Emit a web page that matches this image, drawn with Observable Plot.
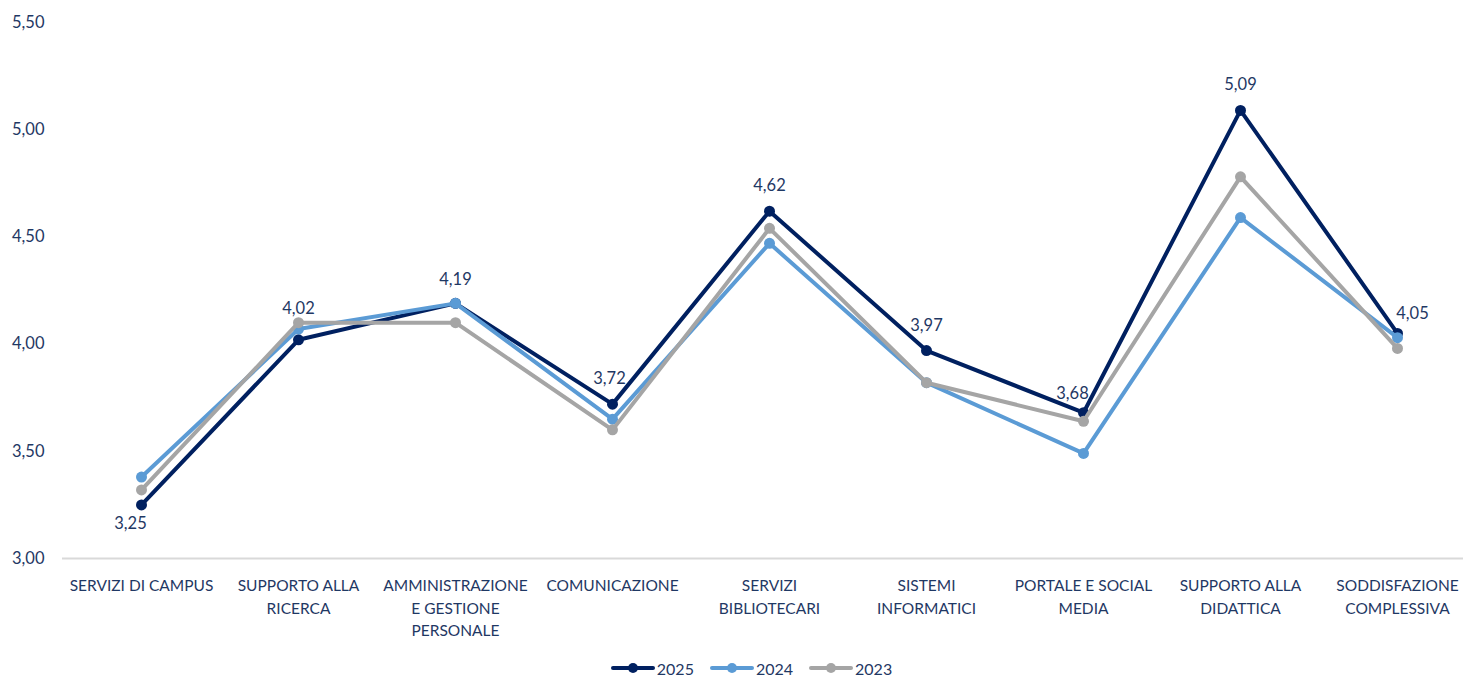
<!DOCTYPE html>
<html>
<head>
<meta charset="utf-8">
<script src="https://cdn.jsdelivr.net/npm/d3@7"></script>
<script src="https://cdn.jsdelivr.net/npm/@observablehq/plot@0.6"></script>
<style>
  body { margin: 0; background: #fff; font-family: Lato, "Open Sans", sans-serif; }
  #legend { display: flex; justify-content: center; align-items: center; gap: 16px; height: 20px; padding-top: 8px; padding-left: 40px; color: #1F3864; font-size: 16px; }
  #legend .item { display: flex; align-items: center; gap: 2px; }
</style>
</head>
<body>
<div id="chart"></div>
<div id="legend"></div>
<script>
const categories = [
  "SERVIZI DI CAMPUS", "SUPPORTO ALLA RICERCA", "AMMINISTRAZIONE E GESTIONE PERSONALE",
  "COMUNICAZIONE", "SERVIZI BIBLIOTECARI", "SISTEMI INFORMATICI",
  "PORTALE E SOCIAL MEDIA", "SUPPORTO ALLA DIDATTICA", "SODDISFAZIONE COMPLESSIVA"
];
const tickLabels = [
  "SERVIZI DI CAMPUS", "SUPPORTO ALLA\nRICERCA", "AMMINISTRAZIONE\nE GESTIONE\nPERSONALE",
  "COMUNICAZIONE", "SERVIZI\nBIBLIOTECARI", "SISTEMI\nINFORMATICI",
  "PORTALE E SOCIAL\nMEDIA", "SUPPORTO ALLA\nDIDATTICA", "SODDISFAZIONE\nCOMPLESSIVA"
];
const years = ["2025", "2024", "2023"];
const values2025 = [3.25, 4.02, 4.19, 3.72, 4.62, 3.97, 3.68, 5.09, 4.05];
const values2024 = [3.38, 4.07, 4.19, 3.65, 4.47, 3.82, 3.49, 4.59, 4.03];
const values2023 = [3.32, 4.10, 4.10, 3.60, 4.54, 3.82, 3.64, 4.78, 3.98];
const yTicks = [3.0, 3.5, 4.0, 4.5, 5.0, 5.5];
const colors = ["#002060", "#5B9BD5", "#A5A5A5"];

const seriesValues = { "2025": values2025, "2024": values2024, "2023": values2023 };
const rows = years.flatMap(year => seriesValues[year].map((value, i) => ({ year, category: categories[i], value })));
const fmt = d3.format(".2f");
const it = v => fmt(v).replace(".", ",");
const textColor = "#1F3864";
const font = "Lato, 'Open Sans', sans-serif";

const seriesMarks = years.flatMap(year => {
  const data = rows.filter(d => d.year === year);
  return [
    Plot.line(data, { x: "category", y: "value", stroke: "year", strokeWidth: 4 }),
    Plot.dot(data, { x: "category", y: "value", fill: "year", r: 5.5 })
  ];
});

// Excel-style data label placement for the 2025 series
const labelRows = rows.filter(d => d.year === "2025");
const labelOffsets = [[-11, 19], [0, -31], [0, -24], [-3, -25], [0, -25], [0, -25], [-11, -19], [0, -26], [15, -20]];
const labelMarks = labelRows.map((d, i) => Plot.text([d], {
  x: "category", y: "value", text: r => it(r.value),
  dx: labelOffsets[i][0], dy: labelOffsets[i][1],
  fontSize: 16.5, fill: textColor
}));

const chart = Plot.plot({
  width: 1463,
  height: 650,
  marginTop: 22,
  marginBottom: 92,
  marginLeft: 62,
  marginRight: 0,
  style: { fontFamily: font, color: textColor, background: "#fff", overflow: "visible" },
  x: { type: "point", domain: categories, range: [140, 1398], padding: 0 },
  y: { domain: [3, 5.5] },
  color: { domain: years, range: colors },
  marks: [
    Plot.ruleY([3], { stroke: "#D9D9D9", strokeWidth: 2 }),
    Plot.axisY({ ticks: yTicks, tickSize: 0, tickPadding: 18, tickFormat: it, fontSize: 16.5, label: null }),
    Plot.axisX({ tickSize: 0, tickPadding: 17, tickFormat: d => tickLabels[categories.indexOf(d)], fontSize: 15.5, lineHeight: 1.45, label: null }),
    ...seriesMarks,
    ...labelMarks
  ]
});
document.getElementById("chart").appendChild(chart);

const legend = d3.select("#legend");
years.forEach((year, i) => {
  const item = legend.append("div").attr("class", "item");
  const s = item.append("svg").attr("width", 44).attr("height", 12);
  s.append("line").attr("x1", 2).attr("x2", 42).attr("y1", 6).attr("y2", 6).attr("stroke", colors[i]).attr("stroke-width", 4).attr("stroke-linecap", "round");
  s.append("circle").attr("cx", 22).attr("cy", 6).attr("r", 5).attr("fill", colors[i]);
  item.append("span").text(year);
});
</script>
</body>
</html>
